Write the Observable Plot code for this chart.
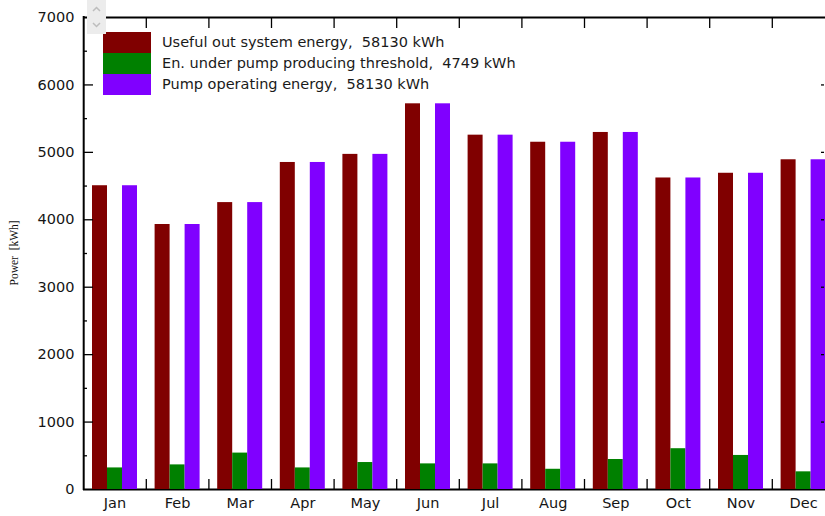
<!DOCTYPE html>
<html><head><meta charset="utf-8">
<script src="https://cdn.jsdelivr.net/npm/d3@7"></script>
<script src="https://cdn.jsdelivr.net/npm/@observablehq/plot@0.6"></script>
<style>
html,body{margin:0;padding:0;background:#fff;overflow:hidden;}
#wrap{position:relative;width:825px;height:516px;overflow:hidden;}
#legend{position:absolute;left:103px;top:32px;font-family:"DejaVu Sans",sans-serif;font-size:14.5px;color:#1a1a1a;}
#legend .row{display:flex;align-items:center;height:21px;}
#legend .sw{width:48px;height:21px;margin-right:11px;}
#legend .lb{white-space:pre;line-height:21px;}
#scroller{position:absolute;left:87px;top:0;width:19px;height:34px;background:#ececec;}
</style></head><body><div id="wrap"></div>
<script>
// ---- data ----
const months = ["Jan","Feb","Mar","Apr","May","Jun","Jul","Aug","Sep","Oct","Nov","Dec"];
const usefulOut = [4505, 3930, 4255, 4850, 4970, 5720, 5255, 5150, 5295, 4620, 4690, 4890];
const underThreshold = [320, 365, 540, 320, 400, 380, 380, 300, 445, 605, 505, 262];
const pumpOperating = [4505, 3930, 4255, 4850, 4970, 5720, 5255, 5150, 5295, 4620, 4690, 4890];
const seriesNames = ["Useful out system energy,  58130 kWh", "En. under pump producing threshold,  4749 kWh", "Pump operating energy,  58130 kWh"];
const yTicks = [0, 1000, 2000, 3000, 4000, 5000, 6000, 7000];
const yMinorTicks = [500, 1500, 2500, 3500, 4500, 5500, 6500];
const yLabel = "Power\u00a0 [kWh]";

// ---- styles ----
const colors = ["#800000", "#008000", "#8000ff"];
const W = 825, H = 516, mL = 83, mT = 17, mB = 27;
const bandStart = 83.2, bw = 62.6, barW = 15, groupInset = 8.8;
const innerW = W - mL, innerH = H - mT - mB;

const rows = months.map((m, i) => ({month: m, v0: usefulOut[i], v1: underThreshold[i], v2: pumpOperating[i]}));
const keys = ["v0", "v1", "v2"];

const barMarks = keys.map((k, s) => Plot.barY(rows, {
  x: "month", y: k, fill: colors[s],
  insetLeft: groupInset + s * barW,
  insetRight: bw - groupInset - (s + 1) * barW
}));

const chart = Plot.plot({
  width: W, height: H,
  marginLeft: mL, marginRight: 0, marginTop: mT, marginBottom: mB,
  style: {fontFamily: "DejaVu Sans, sans-serif", fontSize: "14.5px", color: "#151515", background: "white", overflow: "visible"},
  x: {type: "band", domain: months, range: [bandStart, bandStart + 12 * bw], padding: 0, round: false, tickSize: 0, tickPadding: 8, label: null},
  y: {domain: [0, 7000], ticks: yTicks, tickSize: 0, tickPadding: 9, tickFormat: d => String(d), label: null},
  marks: [
    Plot.ruleY([0], {stroke: "black", strokeWidth: 2}),
    Plot.ruleY([7000], {stroke: "black", strokeWidth: 2}),
    ...barMarks,
    // left axis line
    Plot.tickX(months.slice(0, 1), {x: d => d, dx: -bw / 2, stroke: "black", strokeWidth: 2, insetTop: -1, insetBottom: -1}),
    // top ticks (inward)
    Plot.tickX(months.slice(1), {x: d => d, dx: -bw / 2, stroke: "black", strokeWidth: 1.3, insetBottom: innerH - 11}),
    // bottom ticks (inward)
    Plot.tickX(months.slice(1), {x: d => d, dx: -bw / 2, stroke: "black", strokeWidth: 1.3, insetTop: innerH - 10}),
    // left major ticks
    Plot.tickY(yTicks.slice(1, -1), {y: d => d, stroke: "black", strokeWidth: 1.3, insetRight: innerW - 10}),
    // left minor ticks
    Plot.tickY(yMinorTicks, {y: d => d, stroke: "black", strokeWidth: 1.3, insetRight: innerW - 4}),
    // right ticks
    Plot.tickY(yTicks.slice(1, -1), {y: d => d, stroke: "black", strokeWidth: 1.3, insetLeft: innerW - 4, insetRight: 1}),
    // y axis title
    Plot.text([yLabel], {frameAnchor: "left", dx: -69, dy: 32, rotate: -90, fontFamily: "Liberation Serif, serif", fontSize: 11.5, fill: "#111"})
  ]
});

const wrap = document.getElementById("wrap");
wrap.appendChild(chart);

// legend
const legend = document.createElement("div");
legend.id = "legend";
seriesNames.forEach((name, i) => {
  const row = document.createElement("div"); row.className = "row";
  const sw = document.createElement("div"); sw.className = "sw"; sw.style.background = colors[i];
  const lb = document.createElement("span"); lb.className = "lb"; lb.textContent = name;
  row.appendChild(sw); row.appendChild(lb); legend.appendChild(row);
});
wrap.appendChild(legend);

// scroll widget
const sc = document.createElement("div");
sc.id = "scroller";
sc.innerHTML = '<svg width="19" height="34"><polyline points="6,11 9.5,7.5 13,11" fill="none" stroke="#bdbdbd" stroke-width="1.5"/><polyline points="6,23 9.5,26.5 13,23" fill="none" stroke="#bdbdbd" stroke-width="1.5"/></svg>';
wrap.appendChild(sc);
</script>
</body></html>
